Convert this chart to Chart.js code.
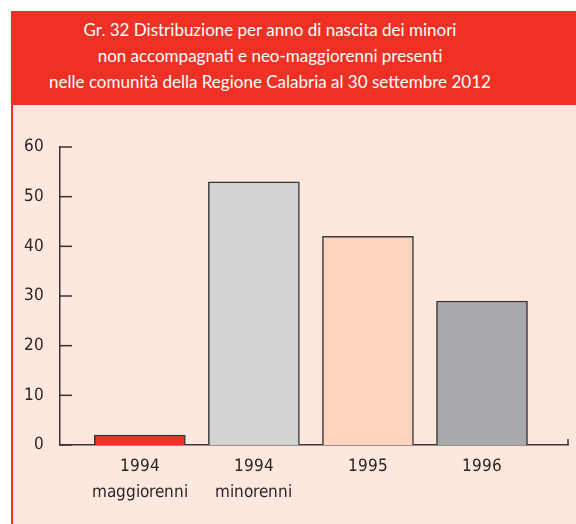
<!DOCTYPE html>
<html>
<head>
<meta charset="utf-8">
<script src="https://cdn.jsdelivr.net/npm/chart.js@4"></script>
<style>
  @font-face { font-family: 'TickCond'; src: local('Liberation Sans Narrow'), local('LiberationSansNarrow-Regular'), local('DejaVu Sans Condensed'), local('DejaVuSansCondensed'); }
  html, body { margin: 0; padding: 0; background: #fff; width: 576px; height: 524px; overflow: hidden; }
  #header {
    position: absolute; left: 11px; top: 11px; width: 518px; height: 88px;
    padding: 6px 47px 0 0; background: #ee3124; color: #fff;
    font-family: Lato, "Open Sans", sans-serif; font-size: 17px; line-height: 26px; text-align: center;
  }
  #panel {
    position: absolute; left: 11px; top: 105px; width: 565px; height: 419px;
    border-left: 2px solid #ee3124; background: #fde7de;
  }
  #chart { display: block; }
</style>
</head>
<body>
<div id="header">Gr. 32 Distribuzione per anno di nascita dei minori<br>non accompagnati e neo-maggiorenni presenti<br>nelle comunità della Regione Calabria al 30 settembre 2012</div>
<div id="panel"><canvas id="chart" width="563" height="419"></canvas></div>
<script>
const categories = [['1994', 'maggiorenni'], ['1994', 'minorenni'], ['1995'], ['1996']];
const values = [2, 53, 42, 29];
const yTicks = [0, 10, 20, 30, 40, 50, 60];
const barColors = ['#ee3124', '#d1d3d4', '#fdd3c0', '#a7a9ac'];

const axisColor = '#3b3536';
const tickFont = { family: 'TickCond, sans-serif', size: 17, weight: 'normal', lineHeight: 1.55 };

// short tick marks pointing into the plot, like the original
const innerTicks = {
    id: 'innerTicks',
    afterDraw(chart) {
        const ctx = chart.ctx;
        const y = chart.scales.y;
        const x = chart.scales.x;
        ctx.save();
        ctx.strokeStyle = axisColor;
        ctx.lineWidth = 1.5;
        yTicks.forEach(t => {
            const py = y.getPixelForValue(t);
            ctx.beginPath();
            ctx.moveTo(x.left, py);
            ctx.lineTo(x.left + 12, py);
            ctx.stroke();
        });
        ctx.beginPath();
        ctx.moveTo(x.right, y.bottom);
        ctx.lineTo(x.right, y.bottom - 6);
        ctx.stroke();
        ctx.restore();
    }
};

function drawChart() {
    new Chart(document.getElementById('chart'), {
        type: 'bar',
        data: {
            datasets: [{
                data: values.map((v, i) => ({ x: i, y: v })),
                backgroundColor: barColors,
                borderColor: axisColor,
                borderWidth: 1.5,
                barThickness: 91
            }]
        },
        options: {
            responsive: false,
            animation: false,
            layout: { padding: { top: 42, right: 8, left: 0, bottom: 0 } },
            plugins: { legend: { display: false }, tooltip: { enabled: false } },
            scales: {
                x: {
                    type: 'linear',
                    offset: false,
                    min: -0.7,
                    max: 3.754,
                    grid: { display: false, offset: false },
                    border: { color: axisColor, width: 1.5 },
                    afterBuildTicks: scale => { scale.ticks = categories.map((c, i) => ({ value: i })); },
                    afterFit: scale => { scale.height = 79; },
                    ticks: {
                        autoSkip: false,
                        maxRotation: 0,
                        padding: 0,
                        color: '#2b2526',
                        font: tickFont,
                        callback: value => categories[value]
                    }
                },
                y: {
                    min: 0,
                    max: 60,
                    grid: { display: false },
                    border: { color: axisColor, width: 1.5 },
                    afterBuildTicks: scale => { scale.ticks = yTicks.map(v => ({ value: v })); },
                    afterFit: scale => { scale.width = 47; },
                    ticks: {
                        padding: 8,
                        color: '#2b2526',
                        font: { ...tickFont, lineHeight: 1.2 }
                    }
                }
            }
        },
        plugins: [innerTicks]
    });
}

document.fonts.load('17px TickCond').then(drawChart, drawChart);
</script>
</body>
</html>
